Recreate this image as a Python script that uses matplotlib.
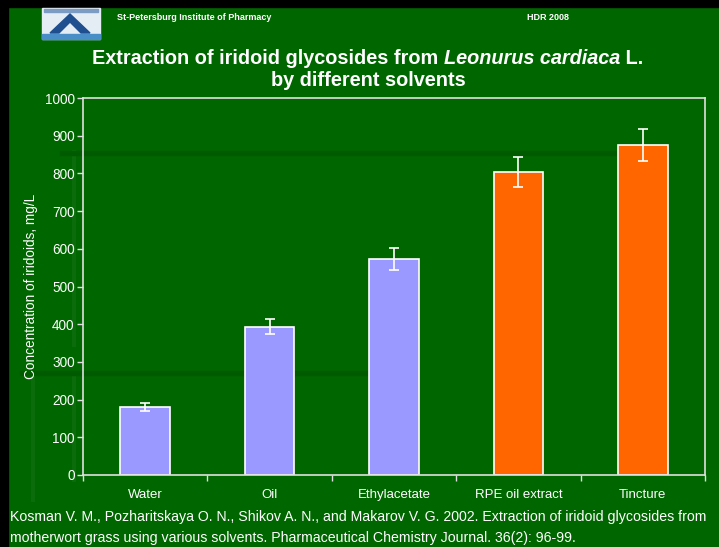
import numpy as np
import matplotlib
matplotlib.use("Agg")
import matplotlib.pyplot as plt
from matplotlib.patches import Rectangle, Polygon
from matplotlib.lines import Line2D

plt.rcParams['font.family'] = ['Liberation Sans', 'DejaVu Sans']

# data
solvents = ['Water', 'Oil', 'Ethylacetate', 'RPE oil extract', 'Tincture']
conc = [180, 393, 572, 804, 875]
conc_err = [10, 20, 29, 40, 43]
bar_colors = ['#9999FF', '#9999FF', '#9999FF', '#FF6600', '#FF6600']

yticks = list(range(0, 1001, 100))

BG = '#006600'
BAND = '#005a00'

fig = plt.figure(figsize=(7.19, 5.47), dpi=100, facecolor=BG)

W, H = 719, 547
def fx(px): return px / W
def fy(py): return 1 - py / H

def box(x0, y0, x1, y1, color, z):
    fig.patches.append(Rectangle((fx(x0), fy(y1)), fx(x1) - fx(x0), fy(y0) - fy(y1),
                                 transform=fig.transFigure, color=color, zorder=z))

# slide background bits (dark border + faint bands)
box(0, 0, 8, H, 'black', -2)
box(0, 0, W, 7, 'black', -2)
box(60, 151, 617, 155, BAND, -2)
box(20, 371, 372, 375, BAND, -2)
for xs, y0, y1 in [(33, 373, 500), (74, 152, 345), (74, 373, 480)]:
    fig.lines.append(Line2D([fx(xs), fx(xs)], [fy(y0), fy(y1)], transform=fig.transFigure,
                            color='#0a6c0a', lw=3, zorder=-2))

# logo (rough)
box(42, 8, 100, 39, '#e4ecf4', 1)
box(44, 9, 98, 12, '#7d9cc4', 2)
box(42, 34, 100, 39, '#4a8ec8', 2)
fig.patches.append(Polygon([(fx(50), fy(33)), (fx(70), fy(14)), (fx(90), fy(33)),
                            (fx(81), fy(33)), (fx(70), fy(22)), (fx(59), fy(33))],
                           transform=fig.transFigure, color='#1f4f8f', zorder=2))

fig.text(fx(117), fy(17), 'St-Petersburg Institute of Pharmacy', color='white',
         fontsize=6.5, fontweight='bold', va='center', ha='left')
fig.text(fx(527), fy(17), 'HDR 2008', color='white', fontsize=6.5,
         fontweight='bold', va='center', ha='left')

# title, first line in three pieces so the species name can be italic
pieces = [('Extraction of iridoid glycosides from ', 'normal'),
          ('Leonurus cardiaca', 'italic'),
          (' L.', 'normal')]
renderer = fig.canvas.get_renderer()
texts = []
for s, st in pieces:
    t = fig.text(0, fy(58), s, color='white', fontsize=14.3, fontweight='bold',
                 fontstyle=st, ha='left', va='center')
    texts.append(t)
widths = [t.get_window_extent(renderer).width for t in texts]
xpos = 368 - sum(widths) / 2
for t, w in zip(texts, widths):
    t.set_x(fx(xpos))
    xpos += w
fig.text(fx(368), fy(80), 'by different solvents', color='white', fontsize=14.3,
         fontweight='bold', ha='center', va='center')

ax = fig.add_axes([fx(83), fy(475), fx(705) - fx(83), fy(98) - fy(475)])
ax.set_facecolor('none')

x = np.arange(len(solvents))
ax.bar(x, conc, width=0.4, color=bar_colors, edgecolor='white', linewidth=1.2, zorder=2)
ax.errorbar(x, conc, yerr=conc_err, fmt='none', ecolor='white', elinewidth=1.2,
            capsize=3.5, capthick=1.2, zorder=3)

ax.set_xlim(-0.5, len(solvents) - 0.5)
ax.set_ylim(0, 1000)
ax.set_yticks(yticks)
ax.set_xticks(np.arange(-0.5, len(solvents), 1.0))
ax.set_xticklabels([])
ax.set_xticks(x, minor=True)
ax.set_xticklabels(solvents, minor=True)
ax.tick_params(axis='x', which='minor', length=0, pad=10, labelsize=9.5, labelcolor='white')
ax.tick_params(axis='x', which='major', length=4, color='#e0e0e0', width=1)
ax.tick_params(axis='y', length=4, color='#e0e0e0', width=1, labelsize=9.8,
               labelcolor='white', pad=2)
for s in ax.spines.values():
    s.set_color('#e0e0e0')
    s.set_linewidth(1.2)

ax.set_ylabel('Concentration of iridoids, mg/L', color='white', fontsize=9.8, labelpad=5)

fig.text(fx(10), fy(517), 'Kosman V. M., Pozharitskaya O. N., Shikov A. N., and Makarov V. G. 2002. '
         'Extraction of iridoid glycosides from', color='white', fontsize=10.2, va='center', ha='left')
fig.text(fx(10), fy(538), 'motherwort grass using various solvents. Pharmaceutical Chemistry Journal. '
         '36(2): 96-99.', color='white', fontsize=10.2, va='center', ha='left')

fig.savefig('out.png', dpi=100, facecolor=BG)
